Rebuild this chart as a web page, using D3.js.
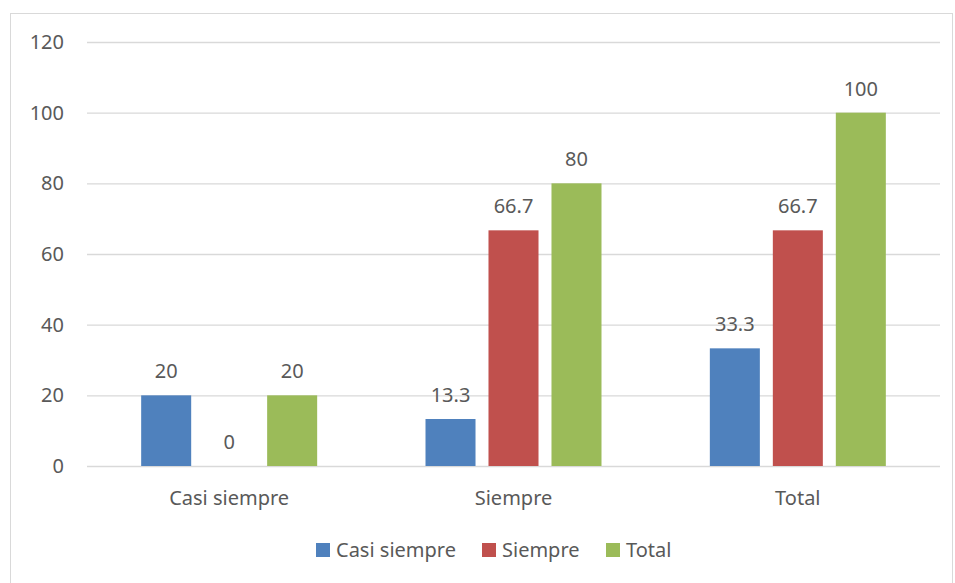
<!DOCTYPE html>
<html>
<head>
<meta charset="utf-8">
<script src="https://cdn.jsdelivr.net/npm/d3@7"></script>
<style>
  body { margin: 0; background: #fff; }
  text { font-family: "Noto Sans", "Open Sans", sans-serif; fill: #595959; }
</style>
</head>
<body>
<svg id="chart" width="955" height="583"></svg>
<script>
var categories = ["Casi siempre", "Siempre", "Total"];
var seriesNames = ["Casi siempre", "Siempre", "Total"];
var casiSiempre = [20, 13.3, 33.3];
var siempre = [0, 66.7, 66.7];
var total = [20, 80, 100];
var yTicks = [0, 20, 40, 60, 80, 100, 120];
var colors = ["#4F81BD", "#C0504D", "#9BBB59"];

var series = [casiSiempre, siempre, total];
var fs = "20px";

var svg = d3.select("#chart");

// outer chart frame
svg.append("rect")
  .attr("x", 10.5).attr("y", 13.5)
  .attr("width", 942).attr("height", 580)
  .attr("fill", "none").attr("stroke", "#D9D9D9");

var plotLeft = 87, plotRight = 940, plotTop = 42, plotBottom = 466;

var x = d3.scaleBand().domain(categories).range([plotLeft, plotRight]).paddingInner(0).paddingOuter(0);
var x1 = d3.scaleBand().domain(seriesNames).range([0, x.bandwidth()]).paddingInner(0.206).paddingOuter(0.86);
var y = d3.scaleLinear().domain([0, 120]).range([plotBottom, plotTop]);

// gridlines
svg.append("g").selectAll("line").data(yTicks).join("line")
  .attr("x1", plotLeft).attr("x2", plotRight)
  .attr("y1", function(d) { return y(d) + 0.5; })
  .attr("y2", function(d) { return y(d) + 0.5; })
  .attr("stroke", "#D9D9D9").attr("stroke-width", 1.3);

// y labels
svg.append("g").selectAll("text").data(yTicks).join("text")
  .attr("x", 64).attr("y", function(d) { return y(d); })
  .attr("dy", "0.35em").attr("text-anchor", "end")
  .style("font-size", fs)
  .text(function(d) { return d; });

// bars
var groups = svg.append("g").selectAll("g").data(categories).join("g")
  .attr("transform", function(d) { return "translate(" + x(d) + ",0)"; });

groups.each(function(cat, ci) {
  var g = d3.select(this);
  seriesNames.forEach(function(s, si) {
    var v = series[si][ci];
    g.append("rect")
      .attr("x", x1(s)).attr("width", x1.bandwidth())
      .attr("y", y(v)).attr("height", y(0) - y(v))
      .attr("fill", colors[si]);
    g.append("text")
      .attr("x", x1(s) + x1.bandwidth() / 2)
      .attr("y", y(v) - 17)
      .attr("text-anchor", "middle")
      .style("font-size", fs)
      .text(v);
  });
});

// category labels
svg.append("g").selectAll("text").data(categories).join("text")
  .attr("x", function(d) { return x(d) + x.bandwidth() / 2; })
  .attr("y", 505)
  .attr("text-anchor", "middle")
  .style("font-size", fs)
  .text(function(d) { return d; });

// legend
var legendX = [316, 482, 606];
var legend = svg.append("g").selectAll("g").data(seriesNames).join("g")
  .attr("transform", function(d, i) { return "translate(" + legendX[i] + ",543)"; });
legend.append("rect").attr("width", 14).attr("height", 14)
  .attr("fill", function(d, i) { return colors[i]; });
legend.append("text").attr("x", 20).attr("y", 7).attr("dy", "0.35em")
  .style("font-size", fs)
  .text(function(d) { return d; });
</script>
</body>
</html>
